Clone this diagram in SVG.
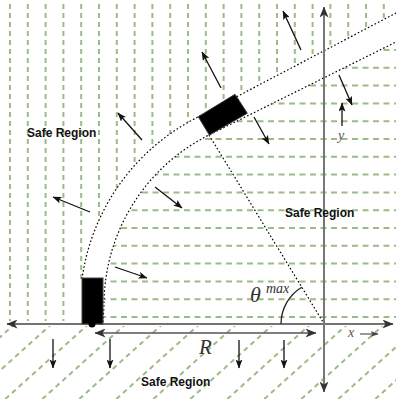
<svg xmlns="http://www.w3.org/2000/svg" width="396" height="399" viewBox="0 0 396 399">
<defs>
<style>
.g{stroke:#9cbb86;stroke-width:2;fill:none}
.gv{stroke-dasharray:5 4}
.gh{stroke-dasharray:6 4.5}
.gd{stroke-dasharray:5 4}
.dot{fill:none;stroke:#000;stroke-width:1.2;stroke-dasharray:1.6 2.2}
.arr{stroke:#111;stroke-width:1.3;fill:none;marker-end:url(#ah)}
.lbl{font-family:"Liberation Sans",Arial,sans-serif;font-weight:bold;font-size:12px;fill:#111}
.math{font-family:"Liberation Serif","Times New Roman",serif;font-style:italic}
</style>
<marker id="ah" markerWidth="9" markerHeight="7" refX="8.5" refY="3.5" orient="auto" markerUnits="userSpaceOnUse"><path d="M0,0 L9,3.5 L0,7 L2,3.5 z" fill="#111"/></marker>
<marker id="axh" markerWidth="11" markerHeight="9" refX="10.5" refY="4.5" orient="auto-start-reverse" markerUnits="userSpaceOnUse"><path d="M0,0 L11,4.5 L0,9 L3,4.5 z" fill="#333"/></marker>
<marker id="sh" markerWidth="8" markerHeight="6" refX="7.5" refY="3" orient="auto" markerUnits="userSpaceOnUse"><path d="M0,0 L8,3 L0,6 L2,3 z" fill="#444"/></marker>
<clipPath id="cv"><path d="M0,0 H396 V13 L198,117 A214,214 0 0 0 82,279 H80 V321 H0 Z"/></clipPath>
<clipPath id="ch"><path d="M104,321 V306 A190,190 0 0 1 209,135 L396,42 V321 Z"/></clipPath>
<clipPath id="cd"><rect x="0" y="326" width="396" height="73"/></clipPath>
</defs>
<rect width="396" height="399" fill="#fff"/>

<g id="region-outer" clip-path="url(#cv)">
<path class="g gv" d="M10,4V322 M27.8,4V322 M45.6,4V322 M63.4,4V322 M81.2,4V322 M99,4V322 M116.8,4V322 M134.6,4V322 M152.4,4V322 M170.2,4V322 M188,4V322 M205.8,4V322 M223.6,4V322 M241.4,4V322 M259.2,4V322 M277,4V322 M294.8,4V322 M312.6,4V322 M330.4,4V322 M348.2,4V322 M366,4V322 M383.8,4V322"/>
</g>
<g id="region-inner" clip-path="url(#ch)">
<path class="g gh" d="M100,317H396 M100,299.2H396 M100,281.4H396 M100,263.6H396 M100,245.8H396 M100,228H396 M100,210.2H396 M100,192.4H396 M100,174.6H396 M100,156.8H396 M100,139H396 M100,121.2H396 M100,103.4H396 M100,85.6H396 M100,67.8H396 M100,50H396"/>
</g>
<g id="region-below" clip-path="url(#cd)">
<path class="g gd" d="M-68.7,399L19.1,320 M-31.7,399L56.1,320 M5.3,399L93.1,320 M42.3,399L130.1,320 M79.3,399L167.1,320 M116.3,399L204.1,320 M153.3,399L241.1,320 M190.3,399L278.1,320 M227.3,399L315.1,320 M264.3,399L352.1,320 M301.3,399L389.1,320 M338.3,399L426.1,320 M375.3,399L463.1,320"/>
</g>

<g id="road">
<path class="dot" d="M82,279 A214,214 0 0 1 198,117 L396,13"/>
<path class="dot" d="M103,322 L104,306 A190,190 0 0 1 209,135 L396,42"/>
<path class="dot" d="M209,135 L323,322"/>
</g>

<g id="axes">
<path d="M7,324 H393" stroke="#444" stroke-width="1.5" fill="none" marker-start="url(#axh)" marker-end="url(#axh)"/>
<path d="M324,392 V7" stroke="#777" stroke-width="2" fill="none" marker-start="url(#axh)" marker-end="url(#axh)"/>
<path d="M95,333 H316" stroke="#555" stroke-width="1.5" fill="none" marker-start="url(#axh)" marker-end="url(#axh)"/>
<path d="M281,324 A43,43 0 0 1 301.7,287.3" stroke="#222" stroke-width="1.3" fill="none"/>
<path d="M360,334 H378" stroke="#555" stroke-width="1.2" fill="none" marker-end="url(#sh)"/>
</g>

<g id="car-start">
<rect x="82" y="278" width="21" height="46" fill="#000" stroke="#444" stroke-width="1"/>
<circle cx="92" cy="324" r="3.5" fill="#000"/>
</g>
<g id="car-turn">
<polygon points="198.3,116.7 235,94.3 247.3,113.3 209.3,135" fill="#000" stroke="#333" stroke-width="1"/>
</g>

<g id="connectors">
<path class="arr" d="M142,140 L118,113"/>
<path class="arr" d="M90,212 L53,197"/>
<path class="arr" d="M221,88 L202,52"/>
<path class="arr" d="M301,50 L283,11"/>
<path class="arr" d="M254,117 L269,144"/>
<path class="arr" d="M339,75 L352,105"/>
<path class="arr" d="M342,126 L342,103"/>
<path class="arr" d="M155,187 L182,208"/>
<path class="arr" d="M115,267 L147,278"/>
<path class="arr" d="M53,339 L53,368"/>
<path class="arr" d="M110,339 L110,368"/>
<path class="arr" d="M239,340 L239,368"/>
<path class="arr" d="M284,340 L284,368"/>
</g>

<g id="labels">
<text class="lbl" x="27" y="137">Safe Region</text>
<text class="lbl" x="285" y="217">Safe Region</text>
<text class="lbl" x="141" y="386">Safe Region</text>
<text class="math" x="250" y="302" font-size="22" fill="#333">θ</text>
<text class="math" x="266" y="293" font-size="14" fill="#333">max</text>
<text class="math" x="199" y="354" font-size="21" fill="#333">R</text>
<text class="math" x="348" y="337" font-size="14" fill="#555">x</text>
<text class="math" x="338" y="140" font-size="14" fill="#555">y</text>
</g>
</svg>
